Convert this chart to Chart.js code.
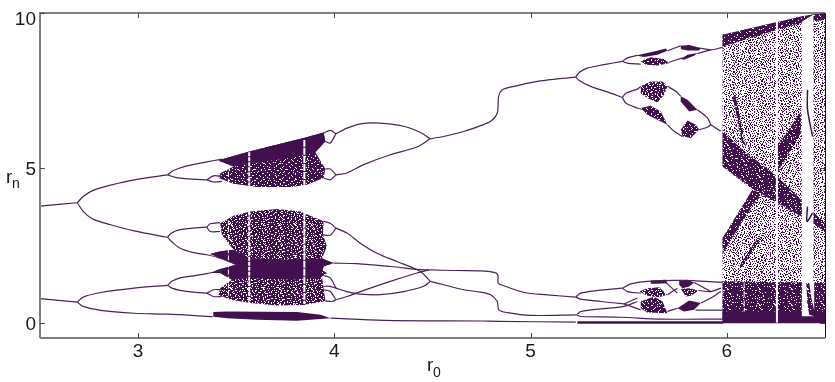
<!DOCTYPE html>
<html>
<head>
<meta charset="utf-8">
<style>
    html, body { margin: 0; padding: 0; background: #fff; }
</style>
<script src="https://cdn.jsdelivr.net/npm/chart.js@4.4.0/dist/chart.umd.min.js"></script>
</head>
<body>
<canvas id="chart" width="835" height="382"></canvas>
<script>
const xTicks = [3, 4, 5, 6];
const yTicks = [0, 5, 10];

// period doubling branches as [r0, rn]
const stemTop = [[2.5,3.76],[2.69,3.87]];
const armTopUp = [[2.69,3.87],[2.72,4.07],[2.77,4.27],[2.86,4.44],[2.98,4.61],[3.15,4.77]];
const armTopDown = [[2.69,3.87],[2.72,3.59],[2.77,3.34],[2.86,3.16],[2.98,2.96],[3.15,2.75]];
const stemBottom = [[2.5,0.77],[2.69,0.66]];
const armBottomUp = [[2.69,0.66],[2.72,0.82],[2.81,0.97],[2.98,1.11],[3.15,1.20]];
const armBottomDown = [[2.69,0.66],[2.72,0.52],[2.81,0.39],[2.98,0.30],[3.15,0.27],[3.38,0.19]];

const upperA = [[3.15,4.77],[3.18,4.91],[3.248,5.06],[3.35,5.19],[3.427,5.28]];
const upperB = [[3.15,4.77],[3.19,4.69],[3.26,4.64],[3.35,4.61]];
const upperB1 = [[3.35,4.61],[3.384,4.74],[3.427,4.72]];
const upperB2 = [[3.35,4.61],[3.384,4.54],[3.427,4.56]];
const midA = [[3.15,2.75],[3.17,2.89],[3.214,3.0],[3.282,3.05],[3.35,3.08]];
const midA1 = [[3.35,3.08],[3.367,3.19],[3.418,3.23]];
const midA2 = [[3.35,3.08],[3.367,2.94],[3.418,2.94]];
const midB = [[3.15,2.75],[3.17,2.62],[3.214,2.40],[3.282,2.26],[3.35,2.19],[3.418,2.08],[3.486,1.92]];
const lowA = [[3.15,1.20],[3.172,1.33],[3.214,1.44],[3.282,1.51],[3.35,1.58],[3.427,1.68]];
const lowB = [[3.15,1.20],[3.172,1.11],[3.214,1.04],[3.282,0.98],[3.35,0.95]];
const lowB1 = [[3.35,0.95],[3.384,1.06],[3.427,1.06]];
const lowB2 = [[3.35,0.95],[3.384,0.84],[3.427,0.84]];

const closeTop1 = [[3.945,6.12],[3.979,6.21],[4.008,6.10]];
const closeTop2 = [[3.954,5.85],[3.979,5.80],[4.008,6.10]];
const closeTop3 = [[3.954,4.96],[3.98,4.96],[4.008,4.77]];
const closeTop4 = [[3.945,4.67],[3.979,4.61],[4.008,4.77]];
const mergeTop = [[4.008,6.10],[4.064,6.28],[4.132,6.42],[4.234,6.44],[4.353,6.34],[4.438,6.14],[4.489,5.94]];
const mergeLow = [[4.008,4.77],[4.064,4.83],[4.149,5.10],[4.285,5.42],[4.421,5.67],[4.489,5.94]];
const stemMain = [[4.489,5.94],[4.557,6.01],[4.659,6.17],[4.745,6.36],[4.796,6.5],[4.83,6.77],[4.837,7.31],[4.856,7.52],[4.915,7.63],[5.034,7.79],[5.136,7.87],[5.23,7.93]];

const closeMid1 = [[3.945,3.27],[3.98,3.2],[4.008,3.05]];
const closeMid2 = [[3.942,2.83],[3.98,2.83],[4.008,3.05]];
const closeMid3 = [[3.945,1.52],[3.979,1.44],[4.008,1.11]];
const closeMid4 = [[3.945,1.17],[3.979,1.17],[4.008,1.11]];
const closeMid5 = [[3.945,1.06],[3.979,1.0],[4.008,0.735]];
const closeMid6 = [[3.954,0.70],[3.988,0.68],[4.008,0.735]];
const lineA = [[4.008,3.05],[4.064,2.89],[4.132,2.565],[4.217,2.24],[4.319,1.97],[4.438,1.65],[4.489,1.33]];
const lineB = [[3.996,1.92],[4.115,1.90],[4.285,1.81],[4.455,1.70],[4.489,1.70]];
const lineC = [[4.008,0.735],[4.064,0.84],[4.132,1.0],[4.285,1.33],[4.421,1.6],[4.481,1.70]];
const lineD = [[4.008,1.11],[4.064,1.0],[4.132,0.92],[4.234,0.90],[4.353,1.0],[4.455,1.17],[4.489,1.33]];
const tailUp = [[4.489,1.70],[4.625,1.68],[4.745,1.67],[4.813,1.62],[4.833,1.54],[4.835,1.27],[4.864,1.19],[4.966,0.97],[5.085,0.895],[5.23,0.82]];
const tailDown = [[4.489,1.33],[4.557,1.22],[4.659,1.06],[4.745,0.98],[4.796,0.895],[4.83,0.68],[4.838,0.41],[4.881,0.32],[5.0,0.23],[5.238,0.25]];
const tailZero = [[3.98,0.14],[4.25,0.07],[4.75,0.05],[4.83,0.04],[5.23,0.01]];

// upper right cascade
const armHighUp = [[5.23,7.93],[5.247,8.08],[5.289,8.22],[5.374,8.33],[5.468,8.44]];
const armHighDown = [[5.23,7.93],[5.247,7.82],[5.306,7.63],[5.391,7.45],[5.468,7.27]];
const highUp1 = [[5.468,8.44],[5.493,8.55],[5.544,8.63]];
const highUp2 = [[5.468,8.44],[5.493,8.38],[5.561,8.35]];
const highCross1 = [[5.697,8.78],[5.765,8.94]];
const highCross2 = [[5.706,8.41],[5.774,8.55]];
const highOut1 = [[5.859,8.87],[5.918,8.81],[5.979,8.89]];
const highOut2 = [[5.85,8.69],[5.918,8.81]];
const highDown1 = [[5.468,7.27],[5.485,7.41],[5.544,7.54],[5.561,7.63]];
const highDown2 = [[5.468,7.27],[5.485,7.09],[5.544,6.93],[5.578,6.875]];
const highRun1 = [[5.697,7.63],[5.74,7.47],[5.765,7.31]];
const highRun2 = [[5.85,6.875],[5.901,6.61],[5.918,6.39]];
const highRun3 = [[5.697,6.39],[5.731,6.18],[5.774,6.01]];
const highRun4 = [[5.859,6.23],[5.901,6.31],[5.918,6.39]];
const highRun5 = [[5.918,6.39],[5.969,6.18]];

// lower right cascade
const armLowUp = [[5.23,0.82],[5.255,0.95],[5.34,1.035],[5.468,1.11]];
const armLowDown = [[5.23,0.82],[5.255,0.755],[5.357,0.68],[5.476,0.60]];
const armZeroUp = [[5.238,0.27],[5.255,0.357],[5.34,0.43],[5.476,0.52],[5.544,0.68]];
const armZeroDown = [[5.238,0.23],[5.255,0.195],[5.459,0.17],[5.664,0.11],[5.979,0.11]];
const lowTopLine = [[5.468,1.11],[5.51,1.25],[5.595,1.33],[5.765,1.36],[5.979,1.30]];
const lowInner1 = [[5.468,1.11],[5.493,1.0],[5.561,0.95]];
const lowInner2 = [[5.476,0.60],[5.544,0.79]];
const lowInner3 = [[5.476,0.60],[5.561,0.41]];
const lowDiag1 = [[5.689,1.29],[5.748,0.95]];
const lowDiag2 = [[5.697,0.895],[5.748,1.11]];
const lowDiag3 = [[5.859,1.035],[5.918,1.0],[5.969,1.11]];
const lowDiag4 = [[5.833,1.29],[5.918,1.0]];
const lowDiag5 = [[5.867,0.63],[5.918,0.79],[5.969,1.0]];
const lowDiag6 = [[5.697,0.36],[5.748,0.46]];
const lowDiag7 = [[5.84,0.40],[5.979,0.40]];
const baseLine = [[5.238,0.0],[5.98,0.0]];

// outlines of the chaotic bands
const topBand = [[3.41,5.24],[3.571,5.53],[3.843,5.96],[3.945,6.14],[3.954,5.85],[3.903,5.5],[3.954,4.96],[3.945,4.67],[3.86,4.45],[3.775,4.38],[3.605,4.38],[3.486,4.48],[3.41,4.67],[3.421,4.83],[3.486,5.04],[3.418,5.21]];
const topBandSolid = [[3.41,5.24],[3.571,5.53],[3.843,5.96],[3.945,6.14],[3.954,5.85],[3.903,5.5],[3.8,5.35],[3.6,5.15],[3.486,5.04],[3.418,5.21]];
const midBand = [[3.418,3.21],[3.486,3.45],[3.571,3.59],[3.707,3.665],[3.826,3.59],[3.945,3.27],[3.942,2.835],[3.962,2.46],[3.937,2.08],[3.945,1.97],[3.996,1.92],[3.945,1.81],[3.937,1.70],[3.962,1.60],[3.937,1.49],[3.945,1.11],[3.954,0.70],[3.945,0.68],[3.843,0.57],[3.707,0.55],[3.571,0.63],[3.469,0.735],[3.41,0.90],[3.418,1.11],[3.478,1.38],[3.418,1.60],[3.367,1.60],[3.418,1.73],[3.486,1.81],[3.503,1.90],[3.418,2.08],[3.367,2.21],[3.418,2.30],[3.486,2.35],[3.427,2.835]];
const midBandSolid = [[3.367,2.21],[3.418,2.30],[3.486,2.35],[3.571,2.08],[3.775,2.03],[3.937,2.08],[3.996,1.92],[3.945,1.81],[3.937,1.60],[3.928,1.435],[3.775,1.38],[3.571,1.435],[3.478,1.38],[3.418,1.60],[3.367,1.60],[3.418,1.73],[3.495,1.87],[3.418,2.08]];
const zeroBand = [[3.383,0.34],[3.453,0.36],[3.81,0.34],[3.93,0.25],[3.98,0.14],[3.81,0.06],[3.606,0.09],[3.453,0.14],[3.383,0.19]];

const blobTop1 = [[5.536,8.63],[5.629,8.76],[5.689,8.85],[5.697,8.78],[5.646,8.65],[5.578,8.58]];
const blobMid1 = [[5.561,8.44],[5.612,8.57],[5.68,8.51],[5.706,8.38],[5.646,8.30],[5.587,8.33]];
const blobTop2 = [[5.765,8.94],[5.808,8.97],[5.867,8.87],[5.859,8.79],[5.799,8.79],[5.765,8.84]];
const blobMid2 = [[5.765,8.51],[5.799,8.65],[5.85,8.71],[5.833,8.62],[5.782,8.49]];
const blobUpper = [[5.561,7.63],[5.612,7.79],[5.672,7.79],[5.697,7.63],[5.68,7.36],[5.646,7.11],[5.595,7.25],[5.561,7.41]];
const blobLower = [[5.561,6.93],[5.612,7.0],[5.663,6.82],[5.697,6.39],[5.646,6.55],[5.595,6.71]];
const blobRun = [[5.765,7.31],[5.799,7.2],[5.85,6.875],[5.808,6.82],[5.765,7.14]];
const blobBottom = [[5.765,6.23],[5.799,6.53],[5.842,6.39],[5.859,6.23],[5.816,5.96],[5.774,6.01]];

const smallTopA = [[5.612,1.358],[5.689,1.38],[5.697,1.27],[5.646,1.25],[5.612,1.25]];
const smallTopB = [[5.757,1.358],[5.799,1.38],[5.833,1.29],[5.808,1.164],[5.774,1.11],[5.757,1.218]];
const smallMidA = [[5.553,1.0],[5.595,1.11],[5.655,1.14],[5.697,0.895],[5.655,0.82],[5.595,0.863]];
const smallMidB = [[5.765,1.08],[5.808,1.11],[5.859,1.035],[5.816,0.863],[5.791,0.84]];
const smallLowA = [[5.561,0.68],[5.629,0.84],[5.672,0.68],[5.697,0.30],[5.595,0.32],[5.561,0.46]];
const smallLowB = [[5.748,0.46],[5.808,0.71],[5.867,0.63],[5.833,0.41],[5.782,0.36]];

const chaosCloud = [[5.978,9.30],[6.377,9.89],[6.5,10.02],[6.5,0],[5.978,0],[5.978,2.73],[6.13,4.29],[5.978,5.04]];
const chaosTopStrip = [[5.978,9.30],[6.377,9.89],[6.5,10.02],[6.5,9.78],[6.377,9.68],[6.258,9.46],[5.978,8.92]];
const chaosDiagonal = [[5.978,6.18],[6.08,5.58],[6.258,4.72],[6.377,3.97],[6.5,3.21],[6.5,2.945],[6.377,3.43],[6.139,4.29],[5.978,5.04]];
const chaosBottom = [[5.978,1.33],[6.5,1.28],[6.5,0],[5.978,0]];
const chaosBottomSolid = [[5.978,0.36],[6.5,0.36],[6.5,-0.02],[5.978,-0.02]];
const riseLow = [[5.978,2.73],[6.13,4.29],[6.173,4.18],[6.02,2.67],[5.978,2.19]];
const riseHigh = [[6.255,5.69],[6.377,6.82],[6.377,6.12],[6.275,5.04],[6.255,4.72]];
const cloudWedge = [[6.045,6.77],[6.105,5.64],[6.063,6.12]];
const cloudEdge = [[6.037,7.31],[6.088,5.69]];
const cloudStreak = [[6.071,1.81],[6.165,2.73]];

// periodic windows (white gaps)
const windowGap = [[6.382,9.72],[6.441,9.95],[6.441,1.28],[6.382,1.28]];
const windowLowA = [[6.382,1.28],[6.405,1.28],[6.41,0.6],[6.42,0.25],[6.445,0.2],[6.382,0.2]];
const windowLowB = [[6.42,1.28],[6.445,1.28],[6.445,0.4],[6.43,0.8]];
const windowLine1 = [[6.411,7.52],[6.411,6.88],[6.437,6.01]];
const windowLine2 = [[6.411,3.75],[6.408,3.27],[6.437,3.54]];
const gapChaos = [[6.255,10],[6.255,0]];
const gapChaosLow = [[6.088,1.3],[6.088,0.35]];
const gapA1 = [[3.847,5.9],[3.847,4.45]];
const gapA2 = [[3.847,3.55],[3.847,0.6]];
const gapB1 = [[3.566,5.5],[3.566,4.42]];
const gapB2 = [[3.566,3.58],[3.566,0.62]];
const gapC1 = [[3.46,5.1],[3.46,4.55]];
const gapC2 = [[3.46,3.3],[3.46,0.75]];

const branches = [
    stemTop, armTopUp, armTopDown, stemBottom, armBottomUp, armBottomDown,
    upperA, upperB, upperB1, upperB2, midA, midA1, midA2, midB, lowA, lowB, lowB1, lowB2,
    closeTop1, closeTop2, closeTop3, closeTop4, mergeTop, mergeLow, stemMain,
    closeMid1, closeMid2, closeMid3, closeMid4, closeMid5, closeMid6,
    lineA, lineB, lineC, lineD, tailUp, tailDown, tailZero,
    armHighUp, armHighDown, highUp1, highUp2, highCross1, highCross2, highOut1, highOut2,
    highDown1, highDown2, highRun1, highRun2, highRun3, highRun4, highRun5,
    armLowUp, armLowDown, armZeroUp, armZeroDown, lowTopLine, lowInner1, lowInner2, lowInner3,
    lowDiag1, lowDiag2, lowDiag3, lowDiag4, lowDiag5, lowDiag6, lowDiag7,
];

const INK = '#42104f';

// stipple tiles for the speckled parts, # is ink
const denseTile = [
    '####.###########',
    '###########.####',
    '#.##############',
    '#######..#######',
    '##############.#',
    '####.###########',
    '###########.####',
    '##.#############',
    '########.#######',
    '#############..#',
    '#####.##########',
    '################',
    '#.#########.####',
    '#######.########',
    '################',
    '###.#########.##',
];
const mediumTile = [
    '##.####.###.####',
    '#######..#######',
    '.###.#######.###',
    '#########.#####.',
    '###..###.####.##',
    '#########..#####',
    '#.####.#########',
    '######.####.##.#',
    '###.#######.####',
    '#######.#.######',
    '.##.###########.',
    '#######.###..###',
    '##.#######.#####',
    '#####.##.#######',
    '#.##########.##.',
    '#####..#.#######',
];
const sparseTile = [
    '..#...#..##...#.',
    '#...#....#..#...',
    '..##..#.....#.#.',
    '.#....##.#.....#',
    '....#.....#.##..',
    '#.#...#.#....#..',
    '.....##...#.....',
    '.#.#....#..#..#.',
    '#....#.......##.',
    '..#.....#.#.#...',
    '.#..##.#.....#.#',
    '....#....#.#....',
    '#.#...#.....#.#.',
    '..#.#...##.....#',
    '#....#.....#.#..',
    '..#.....#.#...#.',
];
// second tile of another size, laid over the first so the repeat does not show
const fleckTile = [
    '#############',
    '###.#########',
    '#########.###',
    '#############',
    '#.######.####',
    '#####.#######',
    '###########.#',
    '#######.#####',
    '##.##########',
    '#########.###',
    '#####.#######',
];

function makePattern(rows, overlay) {
    const w = rows[0].length * fleckTile[0].length;
    const h = rows.length * fleckTile.length;
    const tile = document.createElement('canvas');
    tile.width = w;
    tile.height = h;
    const c = tile.getContext('2d');
    c.fillStyle = INK;
    for (let j = 0; j < h; j++) {
        for (let i = 0; i < w; i++) {
            const a = rows[j % rows.length][i % rows[0].length] === '#';
            const b = fleckTile[j % fleckTile.length][i % fleckTile[0].length] === '#';
            if (overlay(a, b)) c.fillRect(i, j, 1, 1);
        }
    }
    return c.createPattern(tile, 'repeat');
}

const cut = (a, b) => a && b;
const flip = (a, b) => (b ? a : !a);
const dense = makePattern(denseTile, cut);
const medium = makePattern(mediumTile, cut);
const sparse = makePattern(sparseTile, flip);

function toPoints(pairs) {
    return pairs.map(p => ({ x: p[0], y: p[1] }));
}

function band(pairs, fillStyle) {
    return {
        data: toPoints(pairs),
        showLine: true,
        fill: 'shape',
        backgroundColor: fillStyle,
        borderWidth: 0,
        pointRadius: 0,
        tension: 0,
    };
}

function line(pairs, color, width, dash) {
    return {
        data: toPoints(pairs),
        showLine: true,
        fill: false,
        borderColor: color,
        borderWidth: width,
        borderDash: dash || [],
        pointRadius: 0,
        tension: 0.3,
    };
}

// painter's order, first one ends up at the bottom
const layers = [
    band(chaosCloud, sparse),
    band(cloudWedge, '#ffffff'),
    line(cloudEdge, medium, 3),
    line(cloudStreak, medium, 3),
    band(riseLow, medium),
    band(riseHigh, medium),
    band(chaosDiagonal, medium),
    band(chaosTopStrip, dense),
    band(chaosBottom, medium),
    band(chaosBottomSolid, INK),
    band(windowGap, '#ffffff'),
    band(windowLowA, '#ffffff'),
    band(windowLowB, '#ffffff'),
    line(windowLine1, INK, 1.5),
    line(windowLine2, INK, 1.5),
    line(gapChaos, '#ffffff', 2),
    line(gapChaosLow, '#ffffff', 1, [6, 3]),

    band(topBand, dense),
    band(topBandSolid, INK),
    band(midBand, medium),
    band(midBandSolid, INK),
    band(zeroBand, INK),
    line(gapA1, '#ffffff', 2, [7, 1]),
    line(gapA2, '#ffffff', 2, [7, 1]),
    line(gapB1, '#ffffff', 2, [4, 1]),
    line(gapB2, '#ffffff', 2, [4, 1]),
    line(gapC1, '#ffffff', 1, [5, 2]),
    line(gapC2, '#ffffff', 1, [5, 2]),

    band(blobTop1, INK),
    band(blobMid1, dense),
    band(blobTop2, INK),
    band(blobMid2, INK),
    band(blobUpper, medium),
    band(blobLower, dense),
    band(blobRun, INK),
    band(blobBottom, dense),
    band(smallTopA, INK),
    band(smallTopB, INK),
    band(smallMidA, medium),
    band(smallMidB, medium),
    band(smallLowA, dense),
    band(smallLowB, INK),

    ...branches.map(b => line(b, '#4d1f5b', 1.2)),
    line(baseLine, INK, 2.5),
];
layers.forEach((d, i) => { d.order = -i; });

const frame = {
    id: 'frame',
    afterDraw(chart) {
        const { ctx, chartArea: a, scales: { x, y } } = chart;
        ctx.save();
        ctx.strokeStyle = '#808080';
        ctx.lineWidth = 2;
        ctx.beginPath();
        ctx.moveTo(a.left, a.bottom);
        ctx.lineTo(a.left, a.top);
        ctx.lineTo(a.right, a.top);
        ctx.moveTo(a.left, a.bottom);
        ctx.lineTo(a.right, a.bottom);
        ctx.stroke();
        ctx.strokeStyle = '#111111';
        ctx.lineWidth = 1;
        ctx.beginPath();
        ctx.moveTo(a.right + 0.5, a.top);
        ctx.lineTo(a.right + 0.5, a.bottom);
        ctx.stroke();

        ctx.strokeStyle = '#444444';
        ctx.beginPath();
        xTicks.forEach(v => {
            const px = Math.round(x.getPixelForValue(v)) + 0.5;
            ctx.moveTo(px, a.bottom);
            ctx.lineTo(px, a.bottom - 5);
            ctx.moveTo(px, a.top);
            ctx.lineTo(px, a.top + 5);
        });
        yTicks.forEach(v => {
            const py = Math.round(y.getPixelForValue(v)) + 0.5;
            ctx.moveTo(a.left, py);
            ctx.lineTo(a.left + 5, py);
            ctx.moveTo(a.right, py);
            ctx.lineTo(a.right - 5, py);
        });
        ctx.stroke();

        ctx.fillStyle = '#1a1a1a';
        ctx.font = '19px "Liberation Sans"';
        ctx.textAlign = 'right';
        ctx.textBaseline = 'middle';
        yTicks.forEach(v => {
            const py = y.getPixelForValue(v);
            ctx.fillText(String(v), 36, py + (v === 10 ? 7 : 2));
        });

        ctx.textAlign = 'left';
        ctx.textBaseline = 'alphabetic';
        ctx.fillText('r', 6, 183);
        ctx.fillText('r', 427, 371);
        ctx.font = '14px "Liberation Sans"';
        ctx.fillText('n', 12, 188);
        ctx.fillText('0', 433, 377);
        ctx.restore();
    },
};

new Chart(document.getElementById('chart'), {
    type: 'scatter',
    data: { datasets: layers },
    options: {
        responsive: false,
        animation: false,
        layout: { padding: { top: 13, right: 10, left: 0, bottom: 0 } },
        plugins: { legend: { display: false }, tooltip: { enabled: false } },
        scales: {
            x: {
                type: 'linear',
                min: 2.5,
                max: 6.5,
                afterBuildTicks: axis => { axis.ticks = xTicks.map(v => ({ value: v })); },
                afterFit: axis => { axis.height = 44; },
                grid: { display: false },
                border: { display: false },
                ticks: {
                    padding: -6,
                    maxRotation: 0,
                    color: '#1a1a1a',
                    font: { family: '"Liberation Sans"', size: 19 },
                    callback: v => String(v),
                },
            },
            y: {
                type: 'linear',
                min: -0.5,
                max: 10,
                afterBuildTicks: axis => { axis.ticks = yTicks.map(v => ({ value: v })); },
                afterFit: axis => { axis.width = 40; },
                grid: { display: false },
                border: { display: false },
                ticks: { display: false },
            },
        },
    },
    plugins: [frame],
});
</script>
</body>
</html>
